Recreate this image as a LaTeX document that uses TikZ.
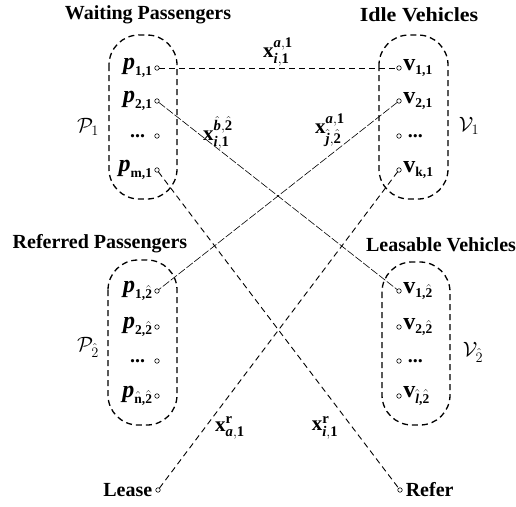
\documentclass[tikz,border=0pt]{standalone}
\usepackage{amssymb, amsmath, amsfonts}
\usepackage{fontspec}
\setmainfont{Liberation Serif}
\usepackage{tikz}
\usetikzlibrary{calc}
\newcommand{\ubf}[1]{\text{\bfseries #1}}
\newcommand{\ibf}[1]{\text{\bfseries\itshape #1}}
\newcommand{\subl}[1]{\text{\fontsize{13.5}{15}\selectfont\bfseries #1}}
\newcommand{\subi}[1]{\text{\fontsize{13.5}{15}\selectfont\bfseries\itshape #1}}

\begin{document}
\begin{tikzpicture}[x=1pt,y=-1pt]
      \tikzset{port/.style={inner sep=0pt,
          outer sep=0pt,
          minimum size=4.5pt,
          draw=black, line width=0.6pt,
          fill=white,
          circle},
        group/.style={draw, line width=1.3pt, dash pattern=on 6pt off 4pt, rounded corners=30pt},
        title/.style={font=\fontsize{20}{24}\selectfont\bfseries},
        item/.style={font=\fontsize{24}{28}\selectfont, inner sep=2pt},
        dots/.style={font=\fontsize{20}{24}\selectfont\bfseries},
        xlab/.style={font=\fontsize{21}{25}\selectfont},
        link/.style={line width=0.9pt, dash pattern=on 6pt off 4pt},
        thinlink/.style={line width=0.6pt, dash pattern=on 8pt off 2pt}
      }
      \useasboundingbox (0,0) rectangle (516,506);
      % groups
      \draw [group] (109,35) rectangle (177,199);
      \draw [group] (379,35) rectangle (448,199);
      \draw [group] (108,260) rectangle (177,425);
      \draw [group] (382,262) rectangle (450,425);
      \node [title] (WP) at (148,15) {Waiting Passengers};
      \node [title,xscale=1.1] (IV) at (419,15) {Idle Vehicles};
      \node [title] (RP) at (100,244) {Referred Passengers};
      \node [title] (LV) at (441,245) {Leasable Vehicles};
      \node [xlab] (P1) at (88,127) {$\mathcal{P}_1$};
      \node [xlab] (V1) at (469,126) {$\mathcal{V}_1$};
      \node [xlab] (P2) at (88,347) {$\mathcal{P}_{\hat{2}}$};
      \node [xlab] (V2) at (473,352) {$\mathcal{V}_{\hat{2}}$};
      % ports
      \node [port,label={[item]180:$\ibf{p}_{\subl{1,1}}$}] (pa1) at (157,68) {};
      \node [port,label={[item]180:$\ibf{p}_{\subl{2,1}}$}] (pa2) at (157,101) {};
      \node [port,label={[dots,xshift=-6pt]180:...}] (pa3) at (157,136) {};
      \node [port,label={[item]180:$\ibf{p}_{\subl{m,1}}$}] (pa4) at (157,170) {};
      \node [port,label={[item]0:$\ubf{v}_{\subl{1,1}}$}] (va1) at (399,68) {};
      \node [port,label={[item]0:$\ubf{v}_{\subl{2,1}}$}] (va2) at (399,101) {};
      \node [port,label={[dots,xshift=3pt]0:...}] (va3) at (399,136) {};
      \node [port,label={[item]0:$\ubf{v}_{\subl{k,1}}$}] (va4) at (399,170) {};
      \node [port,label={[item]180:$\ibf{p}_{\subl{1,}\hat{\subl{2}}}$}] (pb1) at (157,291) {};
      \node [port,label={[item]180:$\ibf{p}_{\subl{2,}\hat{\subl{2}}}$}] (pb2) at (157,327) {};
      \node [port,label={[dots,xshift=-6pt]180:...}] (pb3) at (157,361) {};
      \node [port,label={[item]180:$\ibf{p}_{\hat{\subl{n}}\subl{,}\hat{\subl{2}}}$}] (pb4) at (157,396) {};
      \node [port,label={[item]0:$\ubf{v}_{\subl{1,}\hat{\subl{2}}}$}] (vb1) at (399,291) {};
      \node [port,label={[item]0:$\ubf{v}_{\subl{2,}\hat{\subl{2}}}$}] (vb2) at (399,327) {};
      \node [port,label={[dots,xshift=3pt]0:...}] (vb3) at (399,361) {};
      \node [port,label={[item]0:$\ubf{v}_{\hat{\subi{l}}\subl{,}\hat{\subl{2}}}$}] (vb4) at (399,396) {};
      \node [port,label={[title]180:Lease}] (lease) at (158,490) {};
      \node [port,label={[title]0:Refer}] (refer) at (400,490) {};
      % links
      \draw [link] (pa1)--(va1);
      \draw [thinlink] (pa2)--(vb1);
      \draw [thinlink] (va2)--(pb1);
      \draw [link] (pa4)--(refer);
      \draw [link] (va4)--(lease);
      \node [xlab] (xa) at (278,52) {$\ubf{x}^{\ibf{a},\ubf{1}}_{\ibf{i},\ubf{1}}$};
      \node [xlab] (xb) at (218,133) {$\ubf{x}^{\hat{\ibf{b}},\hat{\ubf{2}}}_{\ibf{i},\ubf{1}}$};
      \node [xlab] (xc) at (330,130) {$\ubf{x}^{\ibf{a},\ubf{1}}_{\hat{\ibf{j}},\hat{\ubf{2}}}$};
      \node [xlab] (xl) at (230,428) {$\ubf{x}^{\ubf{r}}_{\ibf{a},\ubf{1}}$};
      \node [xlab] (xr) at (325,428) {$\ubf{x}^{\ubf{r}}_{\ibf{i},\ubf{1}}$};
\end{tikzpicture}
\end{document}
